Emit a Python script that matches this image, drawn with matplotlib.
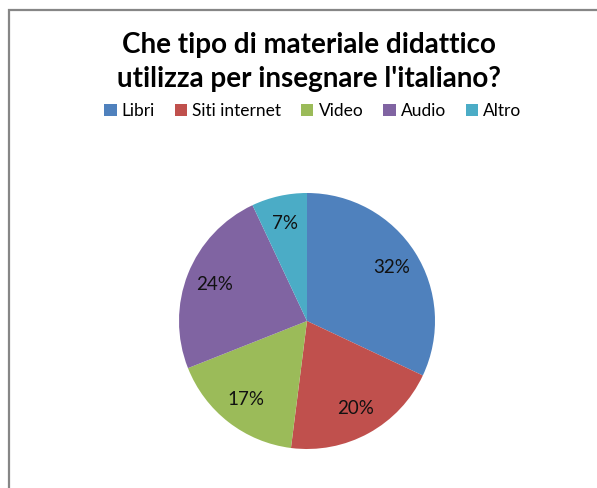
import matplotlib.pyplot as plt
from matplotlib.patches import Rectangle, Patch

# Survey answers: teaching material used for Italian lessons
categories = ["Libri", "Siti internet", "Video", "Audio", "Altro"]
shares = [32, 20, 17, 24, 7]
colors = ["#4F81BD", "#C0504D", "#9BBB59", "#8064A2", "#4BACC6"]

plt.rcParams['font.family'] = ['Lato', 'DejaVu Sans']

W, H = 597, 488
fig = plt.figure(figsize=(W / 100, H / 100), dpi=100)

# outer chart frame (runs off the right/bottom edge)
fig.patches.append(Rectangle((9 / W, -0.05), 1.1, 1 - 10 / H + 0.05,
                             transform=fig.transFigure, fill=False,
                             edgecolor="#868686", linewidth=1.6))

cx, cy, r = 307, 321, 128
ax = fig.add_axes([(cx - r) / W, (H - cy - r) / H, 2 * r / W, 2 * r / H])
wedges, texts = ax.pie(shares, colors=colors, startangle=90, counterclock=False,
                       labels=[f"{v}%" for v in shares], labeldistance=0.78,
                       textprops=dict(fontsize=13.5, color="#111111",
                                      ha="center", va="center"))
ax.set_xlim(-1, 1)
ax.set_ylim(-1, 1)
ax.set_aspect("equal")

fig.text(0.517, 1 - 62 / H, "Che tipo di materiale didattico\nutilizza per insegnare l'italiano?",
         ha="center", va="center", fontsize=20, fontweight="bold",
         linespacing=1.35)

handles = [Patch(facecolor=c, edgecolor="none") for c in colors]
fig.legend(handles, categories, loc="center", bbox_to_anchor=(313 / W, 1 - 111 / H),
           ncol=5, frameon=False, fontsize=12.5, handlelength=0.7,
           handleheight=0.7, handletextpad=0.3, columnspacing=1.15)

plt.savefig("out.png", dpi=100)
